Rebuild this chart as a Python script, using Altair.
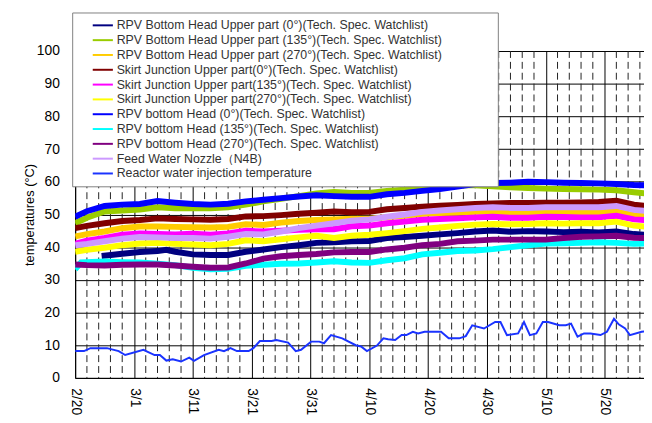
import altair as alt
import pandas as pd

# ---------------- data ----------------
NAMES = [
    "RPV Bottom Head Upper part (0°)(Tech. Spec. Watchlist)",
    "RPV Bottom Head Upper part (135°)(Tech. Spec. Watchlist)",
    "RPV Bottom Head Upper part (270°)(Tech. Spec. Watchlist)",
    "Skirt Junction Upper part(0°)(Tech. Spec. Watchlist)",
    "Skirt Junction Upper part(135°)(Tech. Spec. Watchlist)",
    "Skirt Junction Upper part(270°)(Tech. Spec. Watchlist)",
    "RPV bottom Head (0°)(Tech. Spec. Watchlist)",
    "RPV bottom Head (135°)(Tech. Spec. Watchlist)",
    "RPV bottom Head (270°)(Tech. Spec. Watchlist)",
    "Feed Water Nozzle（N4B)",
    "Reactor water injection temperature",
]
COLORS = ["#000080", "#99cc00", "#ffcc00", "#800000", "#ff00ff", "#ffff00",
          "#0000ff", "#00ffff", "#800080", "#cc99ff", "#1a33ff"]

START_DATE = "2012-02-20"
END_DAY = 96.7

# days after 2/20 (common sampling)
DAYS = [0, 2, 5, 8, 11, 14, 17, 20, 23, 26, 29, 32, 35, 38, 41, 44, 47, 50, 53,
        56, 59, 62, 65, 68, 71, 74, 77, 80, 83, 86, 89, 92, 95, 97]

bh_up_135 = [47.3, 49.0, 50.9, 51.2, 51.5, 52.2, 51.9, 51.9, 51.9, 52.2, 53.0, 54.0,
             54.8, 55.6, 56.4, 56.9, 56.6, 56.6, 57.2, 57.6, 58.4, 58.8, 58.9, 58.9,
             58.6, 58.3, 58.1, 57.9, 57.8, 57.7, 57.6, 57.4, 56.8, 56.4]
bh_up_270 = [43.3, 44.0, 44.8, 45.8, 46.3, 46.3, 46.2, 46.1, 46.0, 46.2, 47.0, 46.8,
             47.5, 48.0, 48.3, 48.5, 48.7, 48.7, 49.2, 49.6, 50.2, 50.4, 50.5, 50.8,
             50.9, 50.6, 50.5, 50.5, 50.5, 50.5, 50.6, 50.9, 49.8, 49.5]
sk_0 = [45.8, 46.5, 47.3, 48.0, 48.3, 48.8, 48.6, 48.5, 48.4, 48.6, 49.4, 49.5,
        49.8, 50.2, 50.5, 50.9, 50.7, 50.8, 51.6, 52.0, 52.4, 52.7, 52.9, 53.2,
        53.4, 53.5, 53.5, 53.6, 53.6, 53.7, 53.8, 54.2, 53.0, 52.6]
sk_135 = [41.0, 42.0, 42.8, 43.8, 44.2, 44.0, 43.9, 44.1, 43.8, 44.2, 45.0, 44.8,
          45.0, 45.3, 45.5, 45.5, 46.4, 46.6, 47.3, 47.8, 48.4, 48.6, 48.8, 49.1,
          49.3, 49.0, 49.0, 49.3, 49.2, 49.1, 49.1, 49.6, 48.5, 48.3]
sk_270 = [38.6, 39.2, 39.8, 40.6, 41.1, 41.3, 41.0, 40.8, 40.6, 41.0, 42.1, 41.8,
          42.4, 43.0, 43.5, 42.8, 43.5, 43.8, 44.3, 44.9, 45.6, 46.0, 46.5, 46.9,
          47.1, 47.0, 47.1, 47.3, 47.2, 47.3, 47.3, 47.8, 46.6, 46.3]
bh_0 = [49.3, 51.0, 52.6, 53.0, 53.2, 54.1, 53.6, 53.2, 53.0, 53.3, 54.0, 54.5,
        55.0, 55.5, 55.9, 55.6, 55.4, 55.4, 56.2, 56.6, 57.2, 57.8, 58.5, 59.3,
        59.6, 59.7, 60.0, 59.9, 59.7, 59.6, 59.5, 59.3, 59.0, 58.9]
bh_270 = [34.7, 34.5, 34.4, 34.6, 34.7, 34.7, 34.4, 34.0, 33.7, 33.8, 35.0, 36.5,
          37.2, 37.6, 37.9, 38.4, 38.5, 38.5, 39.3, 39.8, 40.6, 41.0, 41.8, 42.0,
          42.3, 42.3, 42.3, 42.3, 42.8, 43.2, 43.3, 43.5, 42.9, 42.8]
fw_nozzle = [40.6, 41.0, 41.8, 42.6, 43.1, 43.0, 42.8, 42.8, 42.6, 43.2, 44.0, 43.9,
             44.8, 45.8, 46.6, 47.3, 48.1, 48.5, 49.3, 50.0, 50.8, 51.2, 51.6, 52.0,
             52.2, 52.0, 52.0, 52.2, 52.2, 52.2, 52.2, 52.6, 51.4, 51.1]

BH_UP_0_DAYS = [4.5, 8, 11, 14, 15.5, 17, 20, 23, 26, 29, 32, 35, 38, 41, 44, 47, 50,
                53, 56, 59, 62, 65, 68, 71, 74, 77, 80, 83, 86, 89, 92, 95, 97]
bh_up_0 = [37.3, 38.0, 38.5, 38.8, 39.2, 38.6, 37.8, 37.6, 37.6, 38.6, 39.3, 40.0,
           40.6, 41.3, 41.5, 41.8, 41.9, 42.8, 43.1, 43.5, 43.9, 44.3, 44.8, 45.1,
           44.7, 44.9, 44.8, 44.6, 44.7, 44.5, 44.8, 44.0, 43.8]

BH_135_DAYS = [0, 1, 5, 8, 11, 14, 17, 20, 23, 26, 29, 32, 35, 38, 41, 44, 47, 50,
               53, 56, 59, 62, 65, 68, 71, 74, 77, 80, 83, 86, 89, 92, 95, 97]
bh_135 = [33.2, 35.3, 35.6, 35.4, 35.3, 34.9, 34.5, 33.7, 33.2, 33.4, 34.3, 34.6,
          34.9, 35.0, 35.3, 35.7, 35.3, 35.2, 36.0, 36.6, 37.8, 38.3, 38.8, 39.0,
          39.4, 40.0, 40.6, 41.1, 41.2, 41.3, 41.5, 41.3, 41.0, 41.1]

INJ_DAYS = [0, 1.5, 2.6, 5.4, 7.4, 8.5, 11.6, 13.5, 14.4, 15.5, 16.6, 18, 19.4, 20.2,
            21.9, 24.4, 25.3, 26.4, 27.5, 29.5, 30.3, 31.4, 33.4, 34.2, 36.2, 37.5,
            38.4, 40.1, 41.5, 42.3, 43.5, 45.4, 47.7, 48.6, 49.6, 51.3, 52.4, 53.2,
            54.4, 55.5, 56.3, 57.4, 58.3, 59.4, 62.2, 63.5, 65.3, 66.4, 67.5, 69.5,
            71.4, 72.3, 73.4, 75.3, 76.3, 77.3, 78.4, 79.5, 80.4, 82.3, 83.4, 84.3,
            85.4, 86.5, 87.6, 89.3, 90.4, 91.6, 92.4, 93.5, 94.3, 96.3, 97]
injection = [8.2, 8.2, 9.1, 9.1, 8.2, 7.0, 8.6, 7.0, 7.0, 5.3, 5.7, 5.0, 6.2, 5.2,
             7.0, 8.6, 8.2, 9.1, 8.2, 8.2, 9.1, 11.3, 11.3, 11.6, 10.8, 8.2,
             8.6, 11.1, 11.1, 10.6, 13.1, 12.1, 10.0, 9.6, 8.2, 9.9, 12.1, 11.8,
             11.6, 13.1, 13.1, 14.1, 13.6, 14.1, 14.1, 12.1, 12.1, 12.8, 16.1, 15.1,
             17.1, 17.1, 13.1, 13.6, 17.1, 13.1, 13.6, 17.1, 17.1, 16.1, 16.1, 16.6,
             12.6, 13.6, 13.6, 13.1, 14.1, 18.1, 16.4, 15.1, 13.1, 14.1, 14.3]

SERIES = [
    (BH_UP_0_DAYS, bh_up_0),
    (DAYS, bh_up_135),
    (DAYS, bh_up_270),
    (DAYS, sk_0),
    (DAYS, sk_135),
    (DAYS, sk_270),
    (DAYS, bh_0),
    (BH_135_DAYS, bh_135),
    (DAYS, bh_270),
    (DAYS, fw_nozzle),
    (INJ_DAYS, injection),
]

Y_TICKS = list(range(0, 101, 10))

# ---------------- helpers ----------------
base = pd.Timestamp(START_DATE)


def iso(d):
    return (base + pd.Timedelta(days=d)).strftime("%Y-%m-%dT%H:%M:%SZ")


def dt(d):
    t = base + pd.Timedelta(days=d)
    return alt.DateTime(year=int(t.year), month=int(t.month), date=int(t.day), utc=True)


x_scale = alt.Scale(type="utc", domain=[iso(0), iso(END_DAY)], nice=False)
y_scale = alt.Scale(domain=[0, 100], nice=False)

major_days = list(range(0, 100, 10))
minor_days = [d for d in range(2, 97, 2) if d % 10 != 0]

x_axis = alt.Axis(
    values=[dt(d) for d in major_days],
    format="%-m/%-d", labelAngle=90, labelAlign="left", labelBaseline="middle",
    labelFont="Liberation Sans", labelFontSize=14, labelColor="black",
    labelPadding=10, ticks=False, grid=True, gridColor="black", gridWidth=1,
    domainColor="black", domainWidth=1, title=None, labelOverlap=False,
)
y_axis = alt.Axis(
    values=Y_TICKS, labelFont="Liberation Sans", labelFontSize=14, labelColor="black",
    labelPadding=16, ticks=False, grid=True, gridColor="black", gridWidth=1,
    domainColor="black", domainWidth=1, title="temperatures (°C)",
    titleFont="Liberation Sans", titleFontSize=13, titleFontWeight="normal",
    titleColor="black", titlePadding=0,
)

PAD = "\u2800" * 5
legend = alt.Legend(
    orient="none", legendX=-3, legendY=-39, title=None,
    symbolType="M-1.7,0H1.7", symbolStrokeWidth=2, symbolSize=144,
    labelFont="Liberation Sans", labelFontSize=12.5, labelColor="#333333",
    labelLimit=0, labelExpr=f"datum.label + '{PAD}'", labelOffset=7,
    fillColor="white", strokeColor="#808080", padding=6, rowPadding=1,
    symbolOffset=18,
)

color = alt.Color("series:N", scale=alt.Scale(domain=NAMES, range=COLORS), legend=legend)

minor_df = pd.DataFrame({"date": [iso(d) for d in minor_days]})
grid_layer = alt.Chart(minor_df).mark_rule(
    color="#222222", strokeWidth=1, strokeDash=[7, 4]
).encode(x=alt.X("date:T", scale=x_scale, axis=x_axis))

layers = [grid_layer]
for i, (days, vals) in enumerate(SERIES):
    df = pd.DataFrame({"date": [iso(d) for d in days], "value": vals, "series": NAMES[i]})
    sw = 2 if i == 10 else 6
    layers.append(
        alt.Chart(df).mark_line(strokeWidth=sw, clip=True).encode(
            x=alt.X("date:T", scale=x_scale, axis=x_axis),
            y=alt.Y("value:Q", scale=y_scale, axis=y_axis),
            color=color,
        )
    )

chart = alt.layer(*layers).properties(
    width=576, height=331,
    autosize=alt.AutoSizeParams(type="none"),
    padding={"left": 68, "top": 41, "right": 0, "bottom": 35},
).configure_view(stroke=None).configure(background="white")

chart.save("out.html", embed_options={"renderer": "svg", "actions": False})
